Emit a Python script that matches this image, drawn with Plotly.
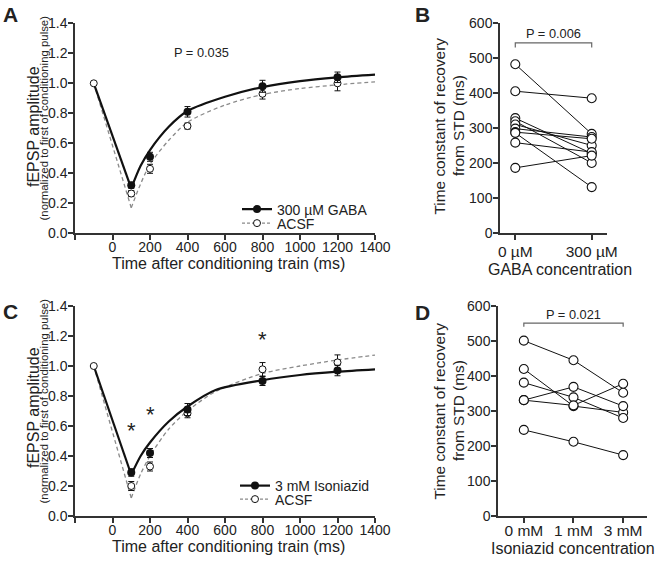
import plotly.graph_objects as go

W, H = 660, 562
FF = "Liberation Sans, Arial, Helvetica, sans-serif"

def px(p):
    return p / W

def py(p):
    return 1 - p / H

# ---------------- Panel A data (GABA) ----------------
tA_gaba = [100, 200, 400, 800, 1200]
yA_gaba = [0.32, 0.51, 0.81, 0.98, 1.04]
eA_gaba = [0.02, 0.03, 0.035, 0.04, 0.035]
tA_acsf = [-100, 100, 200, 400, 800, 1200]
yA_acsf = [1.0, 0.265, 0.43, 0.715, 0.93, 1.0]
eA_acsf = [0, 0.02, 0.03, 0.02, 0.035, 0.05]
# fitted curves
fitA_t = [-100, 100, 150, 200, 300, 400, 600, 800, 1000, 1200, 1400]
fitA_gaba = [1.0, 0.30, 0.45, 0.555, 0.71, 0.815, 0.91, 0.975, 1.015, 1.04, 1.058]
fitA_acsf = [1.0, 0.17, 0.33, 0.46, 0.62, 0.74, 0.855, 0.925, 0.965, 0.99, 1.01]

# ---------------- Panel C data (Isoniazid) ----------------
tC_iso = [100, 200, 400, 800, 1200]
yC_iso = [0.29, 0.42, 0.71, 0.90, 0.97]
eC_iso = [0.025, 0.03, 0.04, 0.03, 0.035]
tC_acsf = [-100, 100, 200, 400, 800, 1200]
yC_acsf = [1.0, 0.20, 0.33, 0.685, 0.978, 1.024]
eC_acsf = [0, 0.03, 0.03, 0.03, 0.045, 0.05]
fitC_t = [-100, 100, 150, 200, 300, 400, 550, 800, 1000, 1200, 1400]
fitC_iso = [1.0, 0.275, 0.40, 0.49, 0.63, 0.73, 0.84, 0.905, 0.94, 0.962, 0.978]
fitC_acsf = [1.0, 0.12, 0.28, 0.40, 0.58, 0.70, 0.83, 0.95, 1.0, 1.04, 1.073]
star_t = [100, 200, 800]
star_y = [0.58, 0.685, 1.185]

time_ticks = [-200, 0, 200, 400, 600, 800, 1000, 1200, 1400]
time_ticktext = ["", "0", "200", "400", "600", "800", "1000", "1200", "1400"]
amp_ticks = [0, 0.2, 0.4, 0.6, 0.8, 1.0, 1.2, 1.4]
amp_ticktext = ["0.0", "0.2", "0.4", "0.6", "0.8", "1.0", "1.2", "1.4"]

# ---------------- Panel B data ----------------
catsB = ["0 µM", "300 µM"]
tauB_0 = [483, 406, 329, 320, 311, 299, 289, 287, 259, 187]
tauB_300 = [284, 386, 228, 201, 251, 275, 270, 132, 232, 222]

# ---------------- Panel D data ----------------
catsD = ["0 mM", "1 mM", "3 mM"]
tauD_0 = [501, 420, 381, 331, 331, 246]
tauD_1 = [445, 314, 339, 369, 316, 212]
tauD_3 = [352, 296, 280, 314, 378, 174]

tau_ticks = [0, 100, 200, 300, 400, 500, 600]
pB = "P = 0.006"
pD = "P = 0.021"
pA = "P = 0.035"
bracketB_y = [531, 544]
bracketD_y = [541, 551]

fig = go.Figure()

BLACK = "#111111"
GRAY = "#8a8a8a"

def time_panel(xa, ya, fit_t, fit_drug, fit_acsf, t_acsf, y_acsf, e_acsf, t_drug, y_drug, e_drug):
    fig.add_trace(go.Scatter(x=fit_t[:2], y=fit_acsf[:2], mode="lines", xaxis=xa, yaxis=ya,
                             line=dict(color=GRAY, width=1.3, dash="4px,3px"), showlegend=False, hoverinfo="skip"))
    fig.add_trace(go.Scatter(x=fit_t[1:], y=fit_acsf[1:], mode="lines", xaxis=xa, yaxis=ya,
                             line=dict(color=GRAY, width=1.3, dash="4px,3px", shape="spline", smoothing=0.8),
                             showlegend=False, hoverinfo="skip"))
    fig.add_trace(go.Scatter(x=fit_t[:2], y=fit_drug[:2], mode="lines", xaxis=xa, yaxis=ya,
                             line=dict(color=BLACK, width=2.2), showlegend=False, hoverinfo="skip"))
    fig.add_trace(go.Scatter(x=fit_t[1:], y=fit_drug[1:], mode="lines", xaxis=xa, yaxis=ya,
                             line=dict(color=BLACK, width=2.2, shape="spline", smoothing=0.8),
                             showlegend=False, hoverinfo="skip"))
    fig.add_trace(go.Scatter(x=t_acsf, y=y_acsf, mode="markers", xaxis=xa, yaxis=ya,
                             marker=dict(symbol="circle", size=7, color="white", line=dict(color=BLACK, width=1)),
                             error_y=dict(type="data", array=e_acsf, color=BLACK, thickness=1, width=3),
                             showlegend=False))
    fig.add_trace(go.Scatter(x=t_drug, y=y_drug, mode="markers", xaxis=xa, yaxis=ya,
                             marker=dict(symbol="circle", size=8, color=BLACK),
                             error_y=dict(type="data", array=e_drug, color=BLACK, thickness=1, width=3),
                             showlegend=False))

time_panel("x", "y", fitA_t, fitA_gaba, fitA_acsf, tA_acsf, yA_acsf, eA_acsf, tA_gaba, yA_gaba, eA_gaba)
time_panel("x3", "y3", fitC_t, fitC_iso, fitC_acsf, tC_acsf, yC_acsf, eC_acsf, tC_iso, yC_iso, eC_iso)

def legend_entry(name, drug, leg, xa, ya):
    if drug:
        fig.add_trace(go.Scatter(x=[None], y=[None], mode="lines+markers", name=name, legend=leg, xaxis=xa, yaxis=ya,
                                 line=dict(color=BLACK, width=2.2), marker=dict(size=8, color=BLACK)))
    else:
        fig.add_trace(go.Scatter(x=[None], y=[None], mode="lines+markers", name=name, legend=leg, xaxis=xa, yaxis=ya,
                                 line=dict(color=GRAY, width=1.3, dash="3px,2px"),
                                 marker=dict(size=7, color="white", line=dict(color=BLACK, width=1))))

legend_entry("300 µM GABA", True, "legend", "x", "y")
legend_entry("ACSF", False, "legend2", "x", "y")
legend_entry("3 mM Isoniazid", True, "legend3", "x3", "y3")
legend_entry("ACSF", False, "legend4", "x3", "y3")

def paired(xa, ya, cats, series):
    n = len(series[0])
    for i in range(n):
        fig.add_trace(go.Scatter(x=cats, y=[s[i] for s in series], mode="lines+markers", xaxis=xa, yaxis=ya,
                                 line=dict(color=BLACK, width=1),
                                 marker=dict(symbol="circle", size=9, color="white", line=dict(color=BLACK, width=1.1)),
                                 showlegend=False, cliponaxis=False))

paired("x2", "y2", catsB, [tauB_0, tauB_300])
paired("x4", "y4", catsD, [tauD_0, tauD_1, tauD_3])

fig.add_trace(go.Scatter(x=[catsB[0], catsB[0], catsB[-1], catsB[-1]],
                         y=[bracketB_y[0], bracketB_y[1], bracketB_y[1], bracketB_y[0]],
                         mode="lines", xaxis="x2", yaxis="y2", line=dict(color="#666", width=1.2),
                         showlegend=False, hoverinfo="skip", cliponaxis=False))
fig.add_trace(go.Scatter(x=[catsD[0], catsD[0], catsD[-1], catsD[-1]],
                         y=[bracketD_y[0], bracketD_y[1], bracketD_y[1], bracketD_y[0]],
                         mode="lines", xaxis="x4", yaxis="y4", line=dict(color="#666", width=1.2),
                         showlegend=False, hoverinfo="skip", cliponaxis=False))

ax = dict(showline=True, linecolor="#333", linewidth=1.5, ticks="outside", ticklen=5, tickwidth=1.5,
          tickcolor="#333", showgrid=False, zeroline=False, automargin=False,
          tickfont=dict(size=14, color="#222", family=FF), fixedrange=True)

yA_dom = [py(233.3), py(23.3)]
yC_dom = [py(516), py(306)]

fig.update_layout(
    template="none",
    width=W, height=H, margin=dict(l=0, r=0, t=0, b=0, pad=0),
    paper_bgcolor="white", plot_bgcolor="white",
    font=dict(family=FF, color="#222"),
    xaxis=dict(ax, domain=[px(75), px(375)], range=[-200, 1400], tickvals=time_ticks, ticktext=time_ticktext,
               anchor="y", ticklabelstandoff=-5),
    yaxis=dict(ax, domain=yA_dom, range=[0, 1.4], tickvals=amp_ticks, ticktext=amp_ticktext, anchor="x",
               ticklabelstandoff=-2),
    xaxis2=dict(ax, domain=[px(500), px(607)], type="category", categoryorder="array", categoryarray=catsB,
                range=[-0.2, 1.2], anchor="y2", tickfont=dict(size=15.5, color="#222", family=FF),
                ticklabelstandoff=-2),
    yaxis2=dict(ax, domain=yA_dom, range=[0, 600], tickvals=tau_ticks, anchor="x2", ticklabelstandoff=-2),
    xaxis3=dict(ax, domain=[px(75), px(375)], range=[-200, 1400], tickvals=time_ticks, ticktext=time_ticktext,
                anchor="y3", ticklabelstandoff=-5),
    yaxis3=dict(ax, domain=yC_dom, range=[0, 1.4], tickvals=amp_ticks, ticktext=amp_ticktext, anchor="x3",
                ticklabelstandoff=-2),
    xaxis4=dict(ax, domain=[px(498), px(647)], type="category", categoryorder="array", categoryarray=catsD,
                range=[-0.52, 2.48], anchor="y4", tickfont=dict(size=15.5, color="#222", family=FF),
                ticklabelstandoff=-5),
    yaxis4=dict(ax, domain=yC_dom, range=[0, 600], tickvals=tau_ticks, anchor="x4", ticklabelstandoff=-2),
)

leg_common = dict(xanchor="left", yanchor="middle", bgcolor="rgba(0,0,0,0)", itemwidth=30,
                  font=dict(size=14, color="#222", family=FF), borderwidth=0, tracegroupgap=0)
fig.update_layout(
    legend=dict(leg_common, x=px(237), y=py(209.5)),
    legend2=dict(leg_common, x=px(237), y=py(223.5)),
    legend3=dict(leg_common, x=px(235), y=py(486)),
    legend4=dict(leg_common, x=px(235), y=py(499.5)),
)

ann = []
def text(x, y, t, size, angle=0, bold=False, xref="paper", yref="paper", yshift=0):
    ann.append(dict(x=x, y=y, xref=xref, yref=yref, text=("<b>%s</b>" % t) if bold else t, showarrow=False,
                    textangle=angle, xanchor="center", yanchor="middle", yshift=yshift,
                    font=dict(size=size, color="#222", family=FF)))

text(px(10), py(15), "A", 21, bold=True)
text(px(422), py(15), "B", 21, bold=True)
text(px(10), py(311), "C", 21, bold=True)
text(px(422), py(312), "D", 21, bold=True)

text(px(33), py(127), "fEPSP amplitude", 16, angle=-90)
text(px(43.5), py(118), "(normalized to first of conditioning pulse)", 11.4, angle=-90)
text(px(33), py(408), "fEPSP amplitude", 16, angle=-90)
text(px(43.5), py(401), "(normalized to first of conditioning pulse)", 11.4, angle=-90)
text(px(228), py(263.5), "Time after conditioning train (ms)", 16)
text(px(228), py(546), "Time after conditioning train (ms)", 16)
text(px(438.5), py(126), "Time constant of recovery", 15.4, angle=-90)
text(px(458), py(126), "from STD (ms)", 15.4, angle=-90)
text(px(560), py(269), "GABA concentration", 16)
text(px(438.5), py(411), "Time constant of recovery", 15.4, angle=-90)
text(px(458), py(411), "from STD (ms)", 15.4, angle=-90)
text(px(573), py(548), "Isoniazid concentration", 16)
text(px(201), py(53), pA, 12.8)
text(px(553), py(33.5), pB, 12.8)
text(px(573.5), py(314.5), pD, 12.8)
for t, v in zip(star_t, star_y):
    text(t, v, "*", 22, xref="x3", yref="y3", yshift=-1)

fig.update_layout(annotations=ann)
fig.write_html("out.html", config={"displayModeBar": False},
               post_script="document.body.style.margin='0px';document.body.style.overflow='hidden';")
